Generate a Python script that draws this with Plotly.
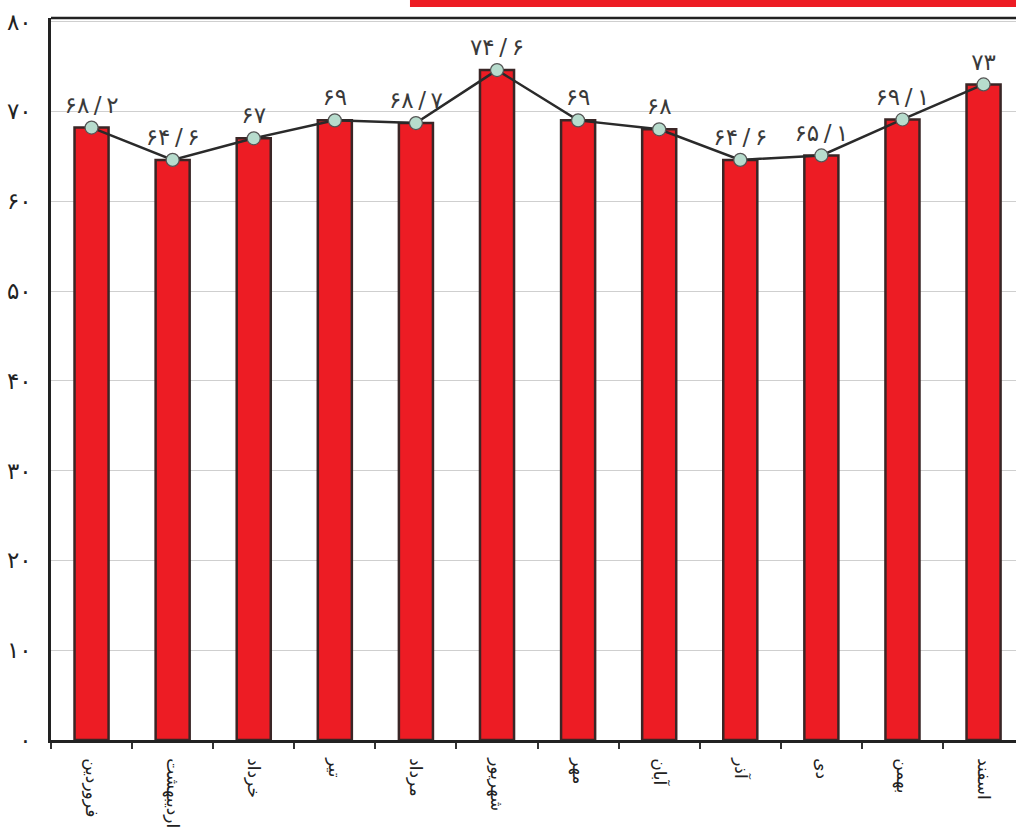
import plotly.graph_objects as go

months = ["فروردین", "اردیبهشت", "خرداد", "تیر", "مرداد", "شهریور",
          "مهر", "آبان", "آذر", "دی", "بهمن", "اسفند"]
values = [68.2, 64.6, 67, 69, 68.7, 74.6, 69, 68, 64.6, 65.1, 69.1, 73]
value_labels = ["۶۸/۲", "۶۴/۶", "۶۷", "۶۹", "۶۸/۷", "۷۴/۶",
                "۶۹", "۶۸", "۶۴/۶", "۶۵/۱", "۶۹/۱", "۷۳"]
y_ticks = [0, 10, 20, 30, 40, 50, 60, 70, 80]
y_tick_labels = ["۰", "۱۰", "۲۰", "۳۰", "۴۰", "۵۰", "۶۰", "۷۰", "۸۰"]

FONT = "DejaVu Sans, Noto Sans, sans-serif"

# widen the slash a little with thin spaces, as in the reference typography
display_labels = [s.replace("/", "\u2009/\u2009") for s in value_labels]

fig = go.Figure()
fig.add_trace(go.Bar(
    x=months, y=values, width=0.42,
    marker=dict(color="#ED1C24", line=dict(color="#3a2626", width=2.5)),
    hoverinfo="skip", showlegend=False,
))
fig.add_trace(go.Scatter(
    x=months, y=values, mode="lines+markers+text",
    text=display_labels, textposition="top center",
    textfont=dict(family=FONT, size=23, color="#3a3a3a"),
    line=dict(color="#2a2a2a", width=2.5),
    marker=dict(size=13, color="#b7dccd", line=dict(color="#555555", width=1.2)),
    hoverinfo="skip", showlegend=False,
))

fig.add_shape(type="rect", xref="paper", yref="paper",
              x0=0.372, x1=1.0, y0=1.0152, y1=1.0249,
              fillcolor="#ED1C24", line=dict(width=0), layer="above")

fig.update_layout(
    width=1016, height=839,
    margin=dict(l=51, r=0, t=18, b=99),
    paper_bgcolor="white", plot_bgcolor="white",
    font=dict(family=FONT, color="#222222"),
)
fig.update_xaxes(
    type="category", range=[-0.5, 11.4],
    tickangle=90, tickfont=dict(size=17, family=FONT, color="#222222"),
    ticks="outside", ticklen=6, tickwidth=1.5, tickcolor="#333333",
    tickson="boundaries", ticklabelstandoff=12,
    showline=True, linecolor="#222222", linewidth=2.5,
    showgrid=False, mirror=False,
)
fig.update_yaxes(
    range=[0, 80.4], tickvals=y_ticks, ticktext=y_tick_labels,
    tickfont=dict(size=23, family=FONT, color="#222222"),
    ticks="", ticklabelstandoff=12,
    showline=True, linecolor="#222222", linewidth=2.5,
    showgrid=True, gridcolor="#cfcfcf", gridwidth=1,
    zeroline=False,
)
fig.add_shape(type="line", xref="paper", yref="paper",
              x0=0, x1=1, y0=1, y1=1, line=dict(color="#222222", width=2.5))

fig.write_html("out.html", config={"displayModeBar": False},
               post_script="document.body.style.margin='0px';")
